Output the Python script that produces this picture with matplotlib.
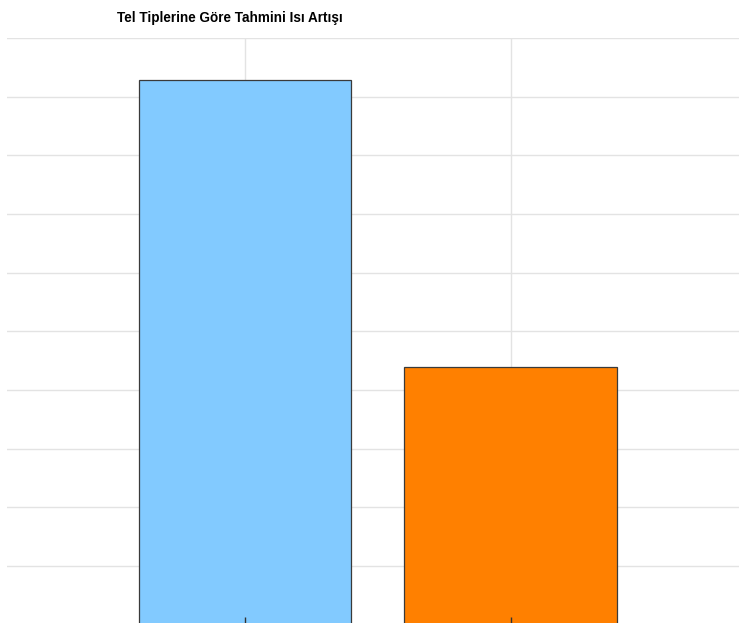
import matplotlib
matplotlib.use("Agg")
import matplotlib.pyplot as plt

categories = ["Bakır", "Alüminyum"]
values = [9.29, 4.39]
colors = ["#82CAFF", "#FF8000"]
title = "Tel Tiplerine Göre Tahmini Isı Artışı"

W, H = 739, 623
fig = plt.figure(figsize=(W / 100, H / 100), dpi=100)
pos = [7 / W, (H - 624.6) / H, 741.5 / W, (624.6 - 38) / H]
ax = fig.add_axes(pos)

x = list(range(len(categories)))
ax.bar(x, values, width=0.8, color=colors, edgecolor="#3a3a3a", linewidth=0.9, zorder=3)
ax.set_xticks(x)
ax.set_xticklabels(categories)
ax.set_xlim(-0.896, 1.896)
ax.set_ylim(0, 10)
ax.set_yticks(range(0, 11))
ax.set_axisbelow(True)
ax.tick_params(axis="both", length=0, labelleft=False, labelbottom=False)
ax.grid(True, color="#e3e3e3", linewidth=1)
for s in ax.spines.values():
    s.set_visible(False)

# overlay axes for the category tick marks drawn above the bars
ax2 = fig.add_axes(pos, sharex=ax)
ax2.patch.set_visible(False)
ax2.set_ylim(0, 10)
ax2.set_yticks([])
ax2.tick_params(axis="x", direction="in", length=6, width=1, color="#333333",
                labelbottom=False)
for s in ax2.spines.values():
    s.set_visible(False)

fig.text(230 / W, 1 - 18 / H, title, ha="center", va="center",
         fontsize=9.75, fontweight="bold", family=["Liberation Sans", "DejaVu Sans"])

fig.savefig("out.png", dpi=100)
